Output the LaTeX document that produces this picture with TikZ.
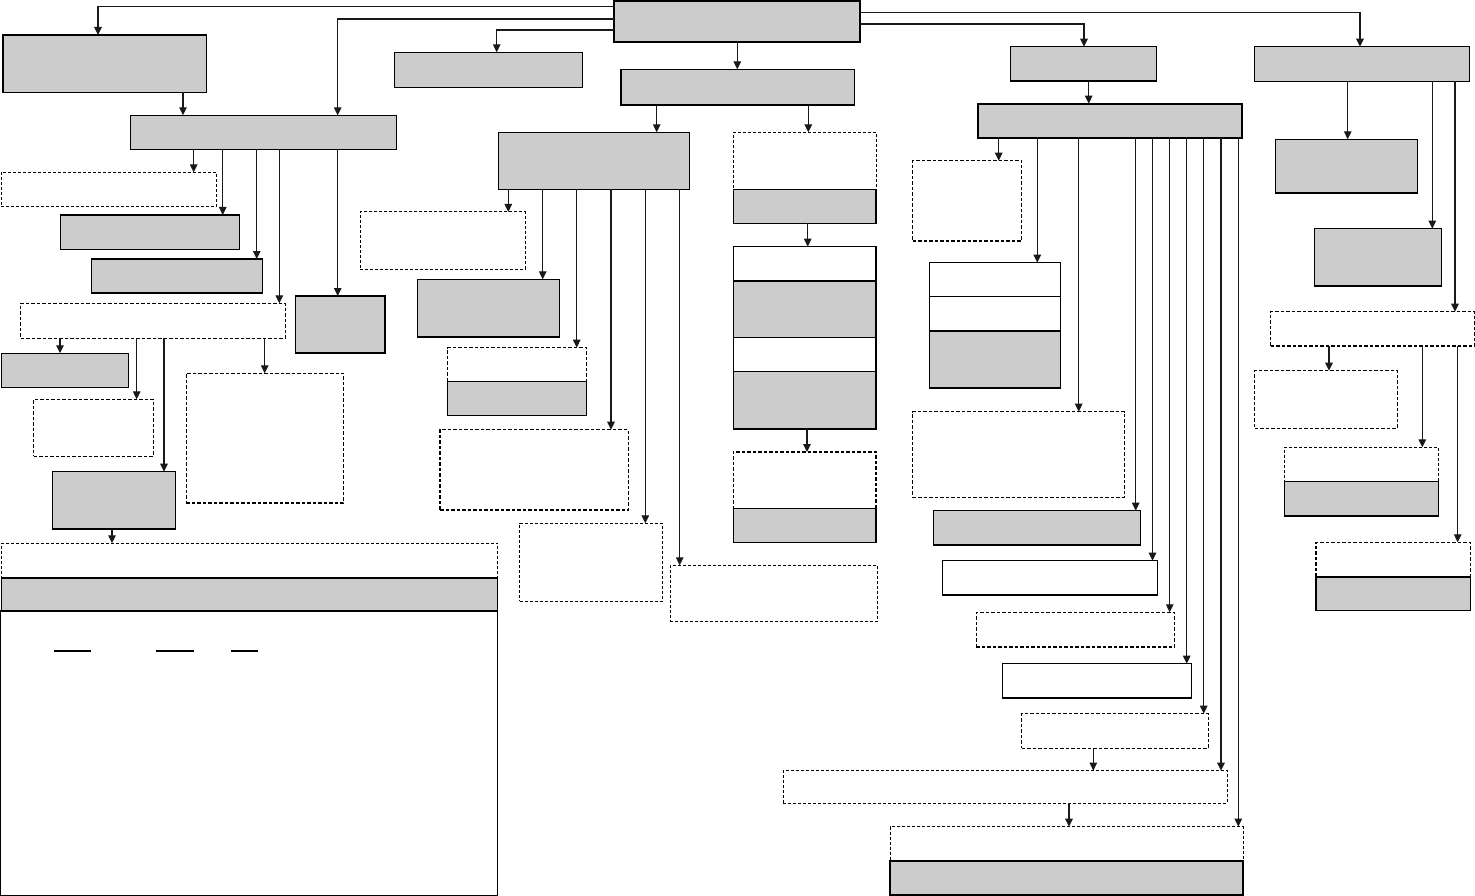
\documentclass[tikz,border=0pt]{standalone}
\usetikzlibrary{arrows.meta}
\definecolor{boxgray}{RGB}{204,204,204}
\newcommand{\mkbox}[6]{\node[#2, anchor=north west, minimum width={#5-#3}, minimum height={#6-#4}] (#1) at (#3,#4) {};}
\tikzset{
  base/.style={rectangle, inner sep=0pt, outer sep=0pt, draw=black},
  gbox/.style={base, fill=boxgray, line width=1.4pt},
  gboxt/.style={base, fill=boxgray, line width=2.1pt},
  wbox/.style={base, fill=white, line width=1.4pt},
  dbox/.style={base, fill=white, line width=1.0pt, dash pattern=on 3pt off 2pt},
  dboxb/.style={base, fill=white, line width=1.5pt, dash pattern=on 3.5pt off 2pt},
  arr/.style={-{Triangle[length=8pt,width=7.5pt]}, line width=1.2pt, draw=black!90},
  ln/.style={line width=1.1pt}
}
\begin{document}
\begin{tikzpicture}[x=1pt,y=-1pt]
\useasboundingbox (0,0) rectangle (1475,896);
\fill[white] (0,0) rectangle (1475,896);
% ---------- top ----------
\mkbox{T}{gboxt}{614.3}{1.3}{860.3}{42}
% ---------- left branch ----------
\mkbox{A}{gbox}{3}{35}{206.5}{92.3}
\mkbox{B}{gbox}{130.7}{115.3}{396.3}{149.3}
\mkbox{C}{dbox}{1.3}{172.3}{216.7}{206.3}
\mkbox{D}{gbox}{60.3}{215}{239.3}{249.3}
\mkbox{E}{gbox}{91.3}{259}{262.7}{293}
\mkbox{F}{dboxb}{20.7}{303.3}{285.3}{338.3}
\mkbox{G}{gbox}{295.7}{296}{385}{353}
\mkbox{M}{gbox}{1.7}{353.3}{128.7}{387.3}
\mkbox{N}{dboxb}{33.7}{399.3}{153.3}{456.3}
\mkbox{O}{gbox}{52.3}{471.7}{175.7}{529}
\mkbox{P}{dboxb}{186.3}{373.3}{343.7}{503}
\mkbox{Q}{dbox}{1.3}{543.3}{497.7}{578}
\mkbox{R}{gbox}{1.3}{578}{497.7}{611}
\mkbox{S}{wbox}{0.7}{611}{497.7}{895.3}
\draw[line width=2.6pt] (R.south west) -- (R.south east);
\draw[ln] (54,651) -- (91,651);
\draw[ln] (156.3,651) -- (193.7,651);
\draw[ln] (231,651) -- (258,651);
% ---------- centre branch ----------
\mkbox{H}{gbox}{394.3}{52.3}{582.3}{87.3}
\mkbox{U}{gbox}{621}{69.3}{854.3}{105}
\mkbox{L}{gbox}{498.3}{132.3}{689.7}{189.3}
\mkbox{I}{dbox}{360.3}{212}{525.3}{269}
\mkbox{J}{gbox}{417.3}{279.3}{559.3}{337}
\mkbox{Ka}{dboxb}{447.7}{347.7}{586.3}{381.3}
\mkbox{Kb}{gbox}{447.7}{381.3}{586.3}{415.7}
\mkbox{X}{dboxb}{440}{429.7}{628.3}{510}
\mkbox{Y}{dbox}{519.7}{523.3}{662.3}{601}
\mkbox{Z}{dbox}{670.3}{565.3}{877.3}{621.7}
\mkbox{Va}{dbox}{733.3}{132.3}{876}{189.3}
\mkbox{Vb}{gbox}{733.3}{189.3}{876}{223.3}
\mkbox{Wa}{wbox}{733.3}{246.7}{876}{281}
\mkbox{Wb}{gbox}{733.3}{281}{876}{337.3}
\mkbox{Wc}{wbox}{733.3}{337.3}{876}{371.7}
\mkbox{Wd}{gbox}{733.3}{371.7}{876}{429}
\mkbox{AAa}{dboxb}{733.3}{452}{876}{508.7}
\mkbox{AAb}{gbox}{733.3}{508.7}{876}{542.7}
% ---------- right-centre branch ----------
\mkbox{AB}{gbox}{1010.7}{46.7}{1156.7}{81}
\mkbox{AC}{gboxt}{977.7}{103.7}{1242.3}{137.7}
\mkbox{AD}{dboxb}{912.7}{160.7}{1021.7}{241}
\mkbox{AEa}{wbox}{929.3}{262.7}{1060.5}{296.7}
\mkbox{AEb}{wbox}{929.3}{296.7}{1060.5}{331}
\mkbox{AEc}{gbox}{929.3}{331}{1060.5}{388}
\mkbox{AJ}{dboxb}{912.7}{411.7}{1124.3}{497.3}
\mkbox{AK}{gbox}{933.3}{510.7}{1140.3}{545}
\mkbox{AL}{wbox}{942.3}{560.7}{1157.3}{595}
\mkbox{AP}{dboxb}{976.3}{612.3}{1174.3}{647}
\mkbox{AQ}{wbox}{1002.7}{663.7}{1191.3}{698}
\mkbox{AR}{dboxb}{1021.7}{713.7}{1208.3}{748.3}
\mkbox{AS}{dbox}{783.3}{770.7}{1227.3}{803}
\mkbox{ATa}{dbox}{890.3}{826.7}{1243.3}{860.7}
\mkbox{ATb}{gboxt}{890.3}{860.7}{1243.3}{895}
% ---------- right branch ----------
\mkbox{AF}{gbox}{1254.3}{46.7}{1469.7}{81.3}
\mkbox{AG}{gbox}{1275.7}{139.3}{1417.7}{193}
\mkbox{AH}{gbox}{1314.3}{228.7}{1441.7}{286}
\mkbox{AI}{dboxb}{1270.7}{311.7}{1474.7}{346}
\mkbox{AM}{dboxb}{1254.7}{370.7}{1397.3}{428.3}
\mkbox{ANa}{dbox}{1284.7}{447.3}{1438.7}{481.7}
\mkbox{ANb}{gbox}{1284.7}{481.7}{1438.7}{516}
\mkbox{AOa}{dboxb}{1316}{542.3}{1470.3}{577}
\mkbox{AOb}{gbox}{1316}{577}{1470.3}{610.7}
% ---------- connectors from top ----------
\draw[arr] (T.west |- 0,6.7) -| (98,0 |- A.north);
\draw[arr] (T.west |- 0,19) -| (337.7,0 |- B.north);
\draw[arr] (T.west |- 0,30) -| (496.7,0 |- H.north);
\draw[arr] (737.3,0 |- T.south) -- (737.3,0 |- U.north);
\draw[arr] (T.east |- 0,12.7) -| (1360,0 |- AF.north);
\draw[arr] (T.east |- 0,24) -| (1084,0 |- AB.north);
% ---------- left ----------
\draw[arr] (183,0 |- A.south) -- (183,0 |- B.north);
\draw[arr] (193.7,0 |- B.south) -- (193.7,0 |- C.north);
\draw[arr] (222.7,0 |- B.south) -- (222.7,0 |- D.north);
\draw[arr] (256.7,0 |- B.south) -- (256.7,0 |- E.north);
\draw[arr] (279.3,0 |- B.south) -- (279.3,0 |- F.north);
\draw[arr] (337.7,0 |- B.south) -- (337.7,0 |- G.north);
\draw[arr] (60,0 |- F.south) -- (60,0 |- M.north);
\draw[arr] (136.7,0 |- F.south) -- (136.7,0 |- N.north);
\draw[arr] (164,0 |- F.south) -- (164,0 |- O.north);
\draw[arr] (264.7,0 |- F.south) -- (264.7,0 |- P.north);
\draw[arr] (112,0 |- O.south) -- (112,0 |- Q.north);
% ---------- centre ----------
\draw[arr] (656.7,0 |- U.south) -- (656.7,0 |- L.north);
\draw[arr] (808.3,0 |- U.south) -- (808.3,0 |- Va.north);
\draw[arr] (508.3,0 |- L.south) -- (508.3,0 |- I.north);
\draw[arr] (542.7,0 |- L.south) -- (542.7,0 |- J.north);
\draw[arr] (576.7,0 |- L.south) -- (576.7,0 |- Ka.north);
\draw[arr] (611,0 |- L.south) -- (611,0 |- X.north);
\draw[arr] (645.3,0 |- L.south) -- (645.3,0 |- Y.north);
\draw[arr] (679.7,0 |- L.south) -- (679.7,0 |- Z.north);
\draw[arr] (807.7,0 |- Vb.south) -- (807.7,0 |- Wa.north);
\draw[arr] (807,0 |- Wd.south) -- (807,0 |- AAa.north);
% ---------- right-centre ----------
\draw[arr] (1088.7,0 |- AB.south) -- (1088.7,0 |- AC.north);
\draw[arr] (998.7,0 |- AC.south) -- (998.7,0 |- AD.north);
\draw[arr] (1037.3,0 |- AC.south) -- (1037.3,0 |- AEa.north);
\draw[arr] (1078.7,0 |- AC.south) -- (1078.7,0 |- AJ.north);
\draw[arr] (1135.7,0 |- AC.south) -- (1135.7,0 |- AK.north);
\draw[arr] (1152.5,0 |- AC.south) -- (1152.5,0 |- AL.north);
\draw[arr] (1169.7,0 |- AC.south) -- (1169.7,0 |- AP.north);
\draw[arr] (1186.7,0 |- AC.south) -- (1186.7,0 |- AQ.north);
\draw[arr] (1203.7,0 |- AC.south) -- (1203.7,0 |- AR.north);
\draw[arr] (1221,0 |- AC.south) -- (1221,0 |- AS.north);
\draw[arr] (1238.3,0 |- AC.south) -- (1238.3,0 |- ATa.north);
\draw[arr] (1093.3,0 |- AR.south) -- (1093.3,0 |- AS.north);
\draw[arr] (1069,0 |- AS.south) -- (1069,0 |- ATa.north);
% ---------- right ----------
\draw[arr] (1347.7,0 |- AF.south) -- (1347.7,0 |- AG.north);
\draw[arr] (1432.3,0 |- AF.south) -- (1432.3,0 |- AH.north);
\draw[arr] (1455,0 |- AF.south) -- (1455,0 |- AI.north);
\draw[arr] (1329,0 |- AI.south) -- (1329,0 |- AM.north);
\draw[arr] (1422.3,0 |- AI.south) -- (1422.3,0 |- ANa.north);
\draw[arr] (1457.7,0 |- AI.south) -- (1457.7,0 |- AOa.north);
\end{tikzpicture}
\end{document}
